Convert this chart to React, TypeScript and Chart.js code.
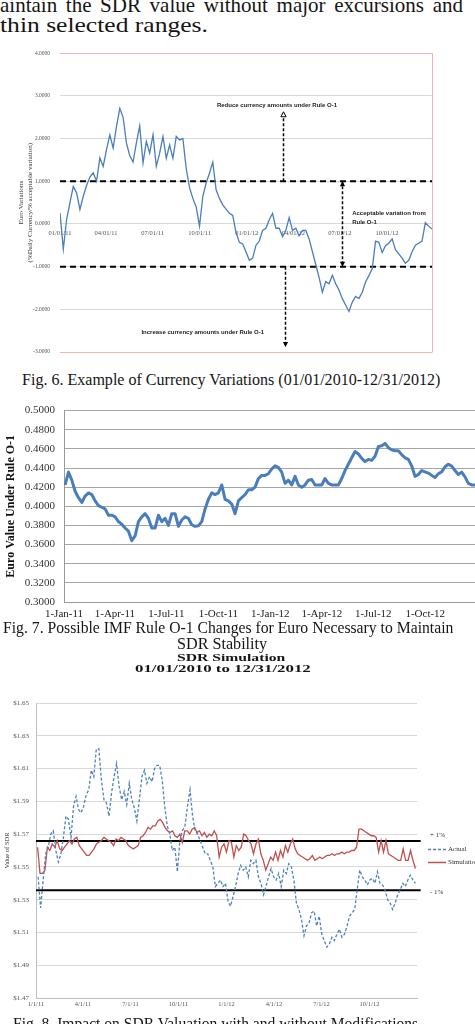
import React, { useEffect, useLayoutEffect, useRef, useState } from "react";
import { Chart, registerables } from "chart.js";

Chart.register(...registerables);

const SERIF = '"Liberation Serif", "Times New Roman", serif';
const SANS = '"Liberation Sans", Arial, sans-serif';

// ---------------- Fig. 6 data ----------------
const fig6Values = [
  0.26, -0.59, 0.11, 0.5, 0.88, 0.73, 0.34, 0.65, 0.9, 1.1,
  1.2, 1.0, 1.55, 1.35, 1.74, 2.09, 1.78, 2.28, 2.71, 2.5,
  1.9, 1.6, 1.45, 1.9, 2.3, 1.43, 1.93, 1.66, 2.09, 1.35,
  1.66, 2.05, 1.54, 1.85, 1.54, 2.05, 1.97, 2.0, 1.3, 0.85,
  0.6, 0.4, -0.05, 0.65, 0.96, 1.19, 1.45, 0.8, 0.6, 0.45,
  0.35, 0.25, 0.2, -0.2, -0.43, -0.47, -0.65, -0.85, -0.8, -0.5,
  -0.4, -0.15, -0.1, 0.1, 0.25, -0.1, -0.1, -0.3, -0.15, 0.15,
  -0.15, -0.1, -0.28, -0.15, -0.15, -0.35, -0.65, -0.95, -1.25, -1.6,
  -1.35, -1.4, -1.2, -1.4, -1.55, -1.75, -1.9, -2.05, -1.83, -1.7,
  -1.75, -1.6, -1.36, -1.21, -1.05, -0.4, -0.43, -0.67, -0.51, -0.45,
  -0.35, -0.6, -0.7, -0.8, -0.92, -0.85, -0.65, -0.5, -0.45, -0.4,
  0.03, -0.05, -0.12,
];
const fig6FirstDay = 0;
const fig6LastDay = 727;
const fig6TickDays = [0, 90, 181, 273, 365, 456, 547, 639];
const fig6TickLabels = ["01/01/11", "04/01/11", "07/01/11", "10/01/11", "01/01/12", "04/01/12", "07/01/12", "10/01/12"];
const fig6Limits = [1, -1];
const fig6YTitle = ["Euro Variations", "(%Daily Currency/% acceptable variation)"];
const fig6ArrowDays = [436, 551, 440];
const fig6ArrowFrom = [1, 1, -1];
const fig6ArrowTo = [2.63, -1, -2.88];
const fig6ArrowBoth = [false, true, false];
const fig6NoteTexts = [
  "Reduce currency amounts under Rule O-1",
  "Acceptable variation from",
  "Rule O-1",
  "Increase currency amounts under Rule O-1",
];
const fig6NoteDays = [424, 571, 571, 279];
const fig6NoteValues = [2.79, 0.24, 0.05, -2.53];
const fig6NoteAlign = ["center", "left", "left", "center"];

// ---------------- Fig. 7 data ----------------
const fig7Values = [
  0.4223, 0.4357, 0.4273, 0.4157, 0.409, 0.404, 0.4107, 0.414, 0.4123, 0.4057,
  0.4007, 0.399, 0.3973, 0.3907, 0.3907, 0.389, 0.384, 0.3813, 0.3773, 0.374,
  0.364, 0.369, 0.384, 0.389, 0.3923, 0.3873, 0.3773, 0.3773, 0.3907, 0.384,
  0.3873, 0.38, 0.3923, 0.3923, 0.379, 0.3857, 0.389, 0.3873, 0.3807, 0.379,
  0.3797, 0.384, 0.3973, 0.4073, 0.414, 0.4123, 0.414, 0.4223, 0.4073, 0.4057,
  0.4023, 0.3923, 0.4057, 0.409, 0.4123, 0.4173, 0.4173, 0.42, 0.429, 0.4323,
  0.4323, 0.434, 0.439, 0.4423, 0.4407, 0.4357, 0.424, 0.4273, 0.4223, 0.4313,
  0.4223, 0.42, 0.4223, 0.4273, 0.428, 0.4223, 0.4223, 0.4223, 0.429, 0.424,
  0.4223, 0.4223, 0.4223, 0.429, 0.4373, 0.444, 0.4507, 0.4573, 0.4547, 0.45,
  0.4467, 0.449, 0.448, 0.4523, 0.4623, 0.4633, 0.4657, 0.4613, 0.459, 0.458,
  0.458, 0.454, 0.4507, 0.449, 0.4423, 0.4313, 0.4333, 0.4373, 0.436, 0.4347,
  0.4323, 0.43, 0.434, 0.436, 0.4413, 0.444, 0.442, 0.4373, 0.4333, 0.4357,
  0.4307, 0.424, 0.4223, 0.4223,
];
const fig7FirstDay = 2;
const fig7LastDay = 727;
const fig7TickDays = [0, 90, 181, 273, 365, 456, 547, 639];
const fig7TickLabels = ["1-Jan-11", "1-Apr-11", "1-Jul-11", "1-Oct-11", "1-Jan-12", "1-Apr-12", "1-Jul-12", "1-Oct-12"];
const fig7YTitle = "Euro Value Under Rule O-1";

// ---------------- Fig. 8 data ----------------
const fig8Actual = [
  1.544, 1.525, 1.542, 1.558, 1.562, 1.57, 1.572, 1.56, 1.553, 1.558,
  1.568, 1.581, 1.579, 1.568, 1.587, 1.593, 1.585, 1.583, 1.587, 1.594,
  1.597, 1.609, 1.605, 1.622, 1.622, 1.603, 1.591, 1.589, 1.581, 1.595,
  1.605, 1.613, 1.599, 1.591, 1.596, 1.588, 1.601, 1.591, 1.586, 1.578,
  1.591, 1.605, 1.609, 1.601, 1.605, 1.602, 1.61, 1.612, 1.612, 1.603,
  1.587, 1.575, 1.57, 1.56, 1.562, 1.547, 1.566, 1.572, 1.575, 1.587,
  1.597, 1.581, 1.572, 1.57, 1.566, 1.562, 1.558, 1.558, 1.554, 1.55,
  1.538, 1.54, 1.542, 1.538, 1.54, 1.529, 1.526, 1.532, 1.538, 1.546,
  1.551, 1.548, 1.55, 1.544, 1.554, 1.552, 1.554, 1.544, 1.54, 1.533,
  1.538, 1.544, 1.549, 1.544, 1.542, 1.546, 1.538, 1.548, 1.546, 1.552,
  1.55, 1.542, 1.528, 1.524, 1.518, 1.508, 1.514, 1.516, 1.522, 1.523,
  1.514, 1.52, 1.509, 1.505, 1.501, 1.503, 1.507, 1.505, 1.509, 1.512,
  1.507, 1.509, 1.514, 1.52, 1.522, 1.524, 1.536, 1.548, 1.544, 1.542,
  1.539, 1.542, 1.543, 1.54, 1.547, 1.54, 1.539, 1.536, 1.53, 1.528,
  1.524, 1.528, 1.533, 1.536, 1.54, 1.538, 1.542, 1.545, 1.542, 1.54,
];
const fig8Simulation = [
  1.562, 1.546, 1.546, 1.548, 1.562, 1.56, 1.564, 1.562, 1.566, 1.561,
  1.56, 1.562, 1.564, 1.566, 1.564, 1.567, 1.568, 1.563, 1.561, 1.559,
  1.557, 1.557, 1.559, 1.561, 1.564, 1.565, 1.566, 1.568, 1.567, 1.566,
  1.565, 1.563, 1.567, 1.566, 1.568, 1.567, 1.566, 1.563, 1.562, 1.561,
  1.562, 1.563, 1.568, 1.569, 1.571, 1.574, 1.573, 1.575, 1.575, 1.578,
  1.579, 1.577, 1.574, 1.572, 1.571, 1.572, 1.569, 1.568, 1.57, 1.565,
  1.572, 1.572, 1.57, 1.573, 1.574, 1.571, 1.572, 1.569, 1.571, 1.568,
  1.57, 1.569, 1.572, 1.569, 1.556, 1.562, 1.564, 1.559, 1.566, 1.565,
  1.556, 1.563, 1.56, 1.562, 1.57, 1.569, 1.566, 1.564, 1.558, 1.564,
  1.567, 1.558, 1.554, 1.548, 1.552, 1.556, 1.554, 1.559, 1.554, 1.56,
  1.556, 1.563, 1.559, 1.564, 1.567, 1.561, 1.558, 1.557, 1.556, 1.555,
  1.554, 1.555, 1.557, 1.554, 1.555, 1.556, 1.555, 1.556, 1.557, 1.557,
  1.558, 1.557, 1.558, 1.558, 1.559, 1.558, 1.559, 1.559, 1.56, 1.56,
  1.562, 1.573, 1.573, 1.572, 1.571, 1.57, 1.569, 1.569, 1.568, 1.559,
  1.566, 1.559, 1.566, 1.558, 1.557, 1.556, 1.555, 1.554, 1.554, 1.561,
  1.554, 1.554, 1.56, 1.554, 1.549,
];
const fig8ActualDays = [4, 727];
const fig8SimDays = [3, 727];
const fig8Bands = [1.5658, 1.5358];
const fig8BandDays = [0, 737];
const fig8BandLabels = ["+ 1%", "- 1%"];
const fig8TickDays = [0, 90, 181, 273, 365, 456, 547, 639];
const fig8TickLabels = ["1/1/11", "4/1/11", "7/1/11", "10/1/11", "1/1/12", "4/1/12", "7/1/12", "10/1/12"];
const fig8SeriesNames = ["Actual", "Simulation"];
const fig8YTitle = "Value of SDR";

// ---------------- helpers ----------------
function toPoints(values: number[], first: number, last: number) {
  const n = values.length;
  return values.map((v, i) => ({ x: first + ((last - first) * i) / (n - 1), y: v }));
}

function fixedTicks(days: number[]) {
  return (scale: any) => {
    scale.ticks = days.map((d) => ({ value: d }));
  };
}

function arrowHead(ctx: CanvasRenderingContext2D, x: number, tipY: number, dir: number, hollow: boolean) {
  ctx.save();
  ctx.setLineDash([]);
  ctx.beginPath();
  ctx.moveTo(x, tipY);
  ctx.lineTo(x - 2.6, tipY - dir * 5);
  ctx.lineTo(x + 2.6, tipY - dir * 5);
  ctx.closePath();
  if (hollow) {
    ctx.fillStyle = "#fff";
    ctx.fill();
    ctx.lineWidth = 1;
    ctx.stroke();
  } else {
    ctx.fillStyle = "#000";
    ctx.fill();
  }
  ctx.restore();
}

const fig6Decor = {
  id: "fig6Decor",
  afterDraw(chart: any) {
    const { ctx, chartArea, scales } = chart;
    const x = scales.x;
    const y = scales.y;
    ctx.save();
    ctx.strokeStyle = "#f2b2b2";
    ctx.lineWidth = 1;
    ctx.beginPath();
    ctx.moveTo(chartArea.right + 0.5, chartArea.top);
    ctx.lineTo(chartArea.right + 0.5, chartArea.bottom + 0.5);
    ctx.stroke();

    ctx.strokeStyle = "#000";
    ctx.lineWidth = 1.5;
    fig6ArrowDays.forEach((d, i) => {
      const px = Math.round(x.getPixelForValue(d)) + 0.5;
      const y1 = y.getPixelForValue(fig6ArrowFrom[i]);
      const y2 = y.getPixelForValue(fig6ArrowTo[i]);
      ctx.setLineDash([3, 2]);
      ctx.beginPath();
      ctx.moveTo(px, y1);
      ctx.lineTo(px, y2);
      ctx.stroke();
      const dir = y2 > y1 ? 1 : -1;
      arrowHead(ctx, px, y2, dir, i === 0);
      if (fig6ArrowBoth[i]) arrowHead(ctx, px, y1, -dir, false);
    });
    ctx.setLineDash([]);
    ctx.fillStyle = "#222";
    ctx.font = `bold 6px ${SANS}`;
    ctx.textBaseline = "middle";
    fig6NoteTexts.forEach((t, i) => {
      ctx.textAlign = fig6NoteAlign[i] as CanvasTextAlign;
      ctx.fillText(t, x.getPixelForValue(fig6NoteDays[i]), y.getPixelForValue(fig6NoteValues[i]));
    });
    ctx.restore();
  },
};

const fig8Decor = {
  id: "fig8Decor",
  afterDraw(chart: any) {
    const { ctx, chartArea, scales } = chart;
    const y = scales.y;
    ctx.save();
    ctx.font = `7px ${SERIF}`;
    ctx.fillStyle = "#333";
    ctx.textBaseline = "middle";
    ctx.textAlign = "left";
    const shifts = [-6, 1.5];
    fig8BandLabels.forEach((t, i) => {
      ctx.fillText(t, chartArea.right + 13, y.getPixelForValue(fig8Bands[i]) + shifts[i]);
    });
    const mid = (chartArea.top + chartArea.bottom) / 2;
    chart.data.datasets.slice(0, 2).forEach((ds: any, i: number) => {
      const yy = Math.round(mid - 1.5 + i * 13) + 0.5;
      ctx.strokeStyle = ds.borderColor;
      ctx.lineWidth = 1.5;
      ctx.setLineDash(ds.borderDash || []);
      ctx.beginPath();
      ctx.moveTo(chartArea.right + 11, yy);
      ctx.lineTo(chartArea.right + 29, yy);
      ctx.stroke();
      ctx.setLineDash([]);
      ctx.fillText(ds.label, chartArea.right + 31, yy);
    });
    ctx.restore();
  },
};

function fig6Config(): any {
  return {
    type: "line",
    data: {
      datasets: [
        {
          label: "Euro",
          data: toPoints(fig6Values, fig6FirstDay, fig6LastDay),
          borderColor: "#4a7ebb",
          borderWidth: 1.3,
          pointRadius: 0,
          tension: 0,
        },
        ...fig6Limits.map((v) => ({
          label: "limit",
          data: [
            { x: fig6FirstDay, y: v },
            { x: fig6LastDay, y: v },
          ],
          borderColor: "#000",
          borderWidth: 2,
          borderDash: [6, 4],
          pointRadius: 0,
        })),
      ],
    },
    options: {
      animation: false,
      responsive: false,
      devicePixelRatio: 1,
      events: [],
      layout: { padding: { top: 10, right: 8, bottom: 18, left: 0 } },
      plugins: { legend: { display: false }, tooltip: { enabled: false } },
      scales: {
        x: {
          type: "linear",
          min: fig6FirstDay,
          max: fig6LastDay,
          position: { y: 0 },
          grid: { display: false, drawTicks: false },
          border: { display: false },
          afterBuildTicks: fixedTicks(fig6TickDays),
          afterFit: (s: any) => {
            s.height = 0;
          },
          ticks: {
            autoSkip: false,
            maxRotation: 0,
            minRotation: 0,
            padding: 5,
            color: "#555",
            font: { family: SERIF, size: 6.5 },
            callback: (_v: any, i: number) => fig6TickLabels[i],
          },
        },
        y: {
          min: -3,
          max: 4,
          afterFit: (s: any) => {
            s.width = 60;
          },
          grid: {
            drawTicks: false,
            color: (c: any) => (c.tick && (c.tick.value === 4 || c.tick.value === -3) ? "#f2b2b2" : "#d9d9d9"),
          },
          border: { display: false },
          ticks: {
            stepSize: 1,
            padding: 10,
            color: "#555",
            font: { family: SERIF, size: 5.5 },
            callback: (v: any) => Number(v).toFixed(4),
          },
          title: {
            display: true,
            text: fig6YTitle,
            color: "#333",
            font: { family: SERIF, size: 7, lineHeight: 1.3 },
            padding: { top: 16.5, bottom: 0 },
          },
        },
      },
    },
    plugins: [fig6Decor],
  };
}

function fig7Config(): any {
  return {
    type: "line",
    data: {
      datasets: [
        {
          label: "Euro",
          data: toPoints(fig7Values, fig7FirstDay, fig7LastDay),
          borderColor: "#4a7ebb",
          borderWidth: 3,
          borderJoinStyle: "round",
          pointRadius: 0,
          tension: 0,
        },
      ],
    },
    options: {
      animation: false,
      responsive: false,
      devicePixelRatio: 1,
      events: [],
      layout: { padding: { top: 8, right: 0, bottom: 0, left: 0 } },
      plugins: { legend: { display: false }, tooltip: { enabled: false } },
      scales: {
        x: {
          type: "linear",
          min: 0,
          max: fig7LastDay,
          grid: { display: false, drawTicks: false },
          border: { display: true, color: "#999" },
          afterBuildTicks: fixedTicks(fig7TickDays),
          afterFit: (s: any) => {
            s.height = 23;
          },
          ticks: {
            autoSkip: false,
            maxRotation: 0,
            minRotation: 0,
            padding: 6,
            color: "#222",
            font: { family: SERIF, size: 11 },
            callback: (_v: any, i: number) => fig7TickLabels[i],
          },
        },
        y: {
          min: 0.3,
          max: 0.5,
          afterFit: (s: any) => {
            s.width = 64;
          },
          grid: { drawTicks: false, color: "#a6a6a6" },
          border: { display: true, color: "#999" },
          ticks: {
            stepSize: 0.02,
            padding: 9,
            color: "#333",
            font: { family: SERIF, size: 11 },
            callback: (v: any) => Number(v).toFixed(4),
          },
          title: {
            display: true,
            text: fig7YTitle,
            color: "#111",
            font: { family: SERIF, size: 12, weight: "bold" },
            padding: { top: 3.8, bottom: 0 },
          },
        },
      },
    },
  };
}

function fig8Config(): any {
  return {
    type: "line",
    data: {
      datasets: [
        {
          label: fig8SeriesNames[0],
          data: toPoints(fig8Actual, fig8ActualDays[0], fig8ActualDays[1]),
          borderColor: "#4f81bd",
          borderWidth: 1.3,
          borderDash: [3, 2],
          pointRadius: 0,
          tension: 0,
        },
        {
          label: fig8SeriesNames[1],
          data: toPoints(fig8Simulation, fig8SimDays[0], fig8SimDays[1]),
          borderColor: "#c0504d",
          borderWidth: 1.3,
          pointRadius: 0,
          tension: 0,
        },
        ...fig8Bands.map((v) => ({
          label: "band",
          data: [
            { x: fig8BandDays[0], y: v },
            { x: fig8BandDays[1], y: v },
          ],
          borderColor: "#000",
          borderWidth: 2,
          pointRadius: 0,
          clip: false,
        })),
      ],
    },
    options: {
      animation: false,
      responsive: false,
      devicePixelRatio: 1,
      events: [],
      layout: { padding: { top: 13, right: 58, bottom: 0, left: 0 } },
      plugins: { legend: { display: false }, tooltip: { enabled: false } },
      scales: {
        x: {
          type: "linear",
          min: 0,
          max: 730,
          grid: { display: false, drawTicks: false },
          border: { display: true, color: "#bfbfbf" },
          afterBuildTicks: fixedTicks(fig8TickDays),
          afterFit: (s: any) => {
            s.height = 26;
          },
          ticks: {
            autoSkip: false,
            maxRotation: 0,
            minRotation: 0,
            padding: 2,
            color: "#555",
            font: { family: SERIF, size: 6.5 },
            callback: (_v: any, i: number) => fig8TickLabels[i],
          },
        },
        y: {
          min: 1.47,
          max: 1.65,
          afterFit: (s: any) => {
            s.width = 36;
          },
          grid: { drawTicks: false, color: "#d9d9d9" },
          border: { display: true, color: "#bfbfbf" },
          ticks: {
            stepSize: 0.02,
            padding: 7,
            color: "#555",
            font: { family: SERIF, size: 7 },
            callback: (v: any) => "$" + Number(v).toFixed(2),
          },
          title: {
            display: true,
            text: fig8YTitle,
            color: "#333",
            font: { family: SERIF, size: 6.5 },
            padding: { top: 3.5, bottom: 0 },
          },
        },
      },
    },
    plugins: [fig8Decor],
  };
}

function ChartBox(props: { left: number; top: number; width: number; height: number; make: () => any }) {
  const ref = useRef<HTMLCanvasElement>(null);
  useEffect(() => {
    if (!ref.current) return;
    const chart = new Chart(ref.current, props.make());
    return () => chart.destroy();
  }, []);
  return (
    <canvas
      ref={ref}
      width={props.width}
      height={props.height}
      style={{ position: "absolute", left: props.left, top: props.top, width: props.width, height: props.height }}
    />
  );
}

type TextSpec = { text: string; left: number; baseline: number; width: number; size: number; bold?: boolean; justify?: boolean };

const pageTexts: TextSpec[] = [
  { text: "aintain the SDR value without major excursions and", left: 0, baseline: 13, width: 463, size: 21, justify: true },
  { text: "thin selected ranges.", left: 0, baseline: 33, width: 208, size: 21.5 },
  { text: "Fig. 6. Example of Currency Variations (01/01/2010-12/31/2012)", left: 22, baseline: 386, width: 418, size: 16.5 },
  { text: "Fig. 7. Possible IMF Rule O-1 Changes for Euro Necessary to Maintain", left: 3, baseline: 634, width: 450, size: 16.5 },
  { text: "SDR Stability", left: 177, baseline: 649.5, width: 90, size: 16.5 },
  { text: "SDR Simulation", left: 177, baseline: 661, width: 108, size: 10, bold: true },
  { text: "01/01/2010 to 12/31/2012", left: 135, baseline: 672.5, width: 175, size: 10, bold: true },
  { text: "Fig. 8. Impact on SDR Valuation with and without Modifications", left: 13, baseline: 1030, width: 405, size: 16.5 },
];

function FitText({ spec }: { spec: TextSpec }) {
  const ref = useRef<HTMLSpanElement>(null);
  const [scale, setScale] = useState(1);
  useLayoutEffect(() => {
    if (!spec.justify && ref.current) {
      const w = ref.current.offsetWidth;
      if (w > 0) setScale(spec.width / w);
    }
  }, []);
  const base: any = {
    position: "absolute",
    left: spec.left,
    top: spec.baseline - 0.8375 * spec.size,
    fontFamily: SERIF,
    fontSize: spec.size,
    lineHeight: `${spec.size}px`,
    fontWeight: spec.bold ? 700 : 400,
    color: "#151515",
    whiteSpace: "nowrap",
    margin: 0,
  };
  if (spec.justify) {
    return <div style={{ ...base, width: spec.width, textAlign: "justify", textAlignLast: "justify" }}>{spec.text}</div>;
  }
  return (
    <div style={{ ...base, transformOrigin: "0 0", transform: `scaleX(${scale})` }}>
      <span ref={ref}>{spec.text}</span>
    </div>
  );
}

export default function App() {
  return (
    <div style={{ position: "absolute", left: 0, top: 0, width: 475, height: 1024, overflow: "hidden", background: "#fff" }}>
      <ChartBox left={0} top={40} width={440} height={330} make={fig6Config} />
      <ChartBox left={0} top={395} width={475} height={230} make={fig7Config} />
      <ChartBox left={0} top={690} width={475} height={334} make={fig8Config} />
      {pageTexts.map((t, i) => (
        <FitText key={i} spec={t} />
      ))}
    </div>
  );
}
